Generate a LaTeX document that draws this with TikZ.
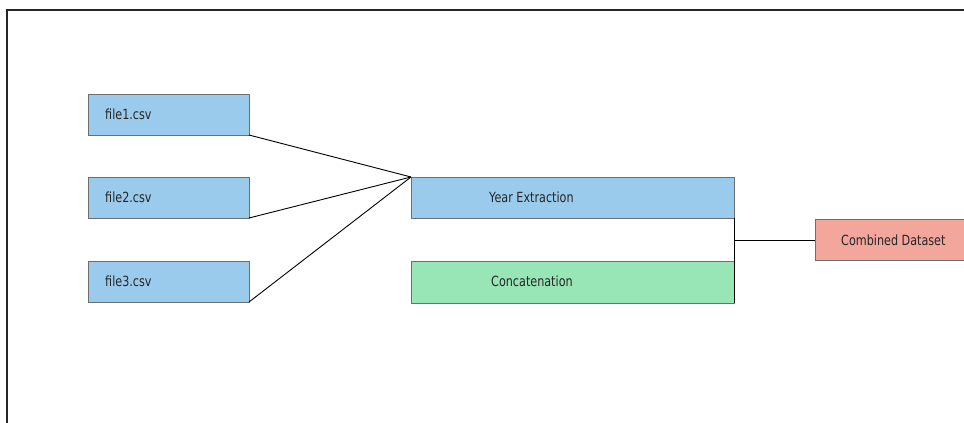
\documentclass[tikz,border=0pt]{standalone}
\usepackage{fontspec}
\setmainfont{DejaVu Sans}
\newfontfamily\lblfont[FakeStretch=0.8]{DejaVu Sans}
\definecolor{boxblue}{RGB}{155,203,236}
\definecolor{boxgreen}{RGB}{152,229,181}
\definecolor{boxred}{RGB}{242,166,156}
\definecolor{boxedge}{RGB}{110,110,110}
\begin{document}
\begin{tikzpicture}[x=1pt,y=-1pt,
  stage/.style={draw=boxedge,line width=0.8pt,minimum height=41pt,inner sep=0pt,outer sep=0pt,anchor=north west},
  lbl/.style={anchor=west,inner sep=0pt,font=\lblfont\fontsize{14}{16}\selectfont,text=black!85},
  link/.style={draw=black,line width=0.9pt}]
\useasboundingbox (0,0) rectangle (964,423);
% frame
\draw[line width=1.1pt,black!85] (7,423) -- (7,10) -- (964,10);
% boxes
\node[stage,fill=boxblue,minimum width=161pt] (f1) at (88,94) {};
\node[stage,fill=boxblue,minimum width=161pt] (f2) at (88,177) {};
\node[stage,fill=boxblue,minimum width=161pt] (f3) at (88,261) {};
\node[stage,fill=boxblue,minimum width=323pt] (ye) at (411,177) {};
\node[stage,fill=boxgreen,minimum width=323pt,minimum height=42pt] (cc) at (411,261) {};
\node[stage,fill=boxred,minimum width=160pt] (cd) at (815,219.5) {};
% labels
\node[lbl] (t1) at (105,114) {file1.csv};
\node[lbl] (t2) at (105,197) {file2.csv};
\node[lbl] (t3) at (105,281) {file3.csv};
\node[lbl] (t4) at (489,197) {Year Extraction};
\node[lbl] (t5) at (491,281) {Concatenation};
\node[lbl] (t6) at (841,240) {Combined Dataset};
% connectors
\draw[link] (f1.south east) -- (ye.north west);
\draw[link] (f2.south east) -- (ye.north west);
\draw[link] (f3.south east) -- (ye.north west);
\draw[link] (ye.south east) -- (cc.south east);
\coordinate (j) at (734,240);
\draw[link] (j) -- (cd.west);
\end{tikzpicture}
\end{document}
